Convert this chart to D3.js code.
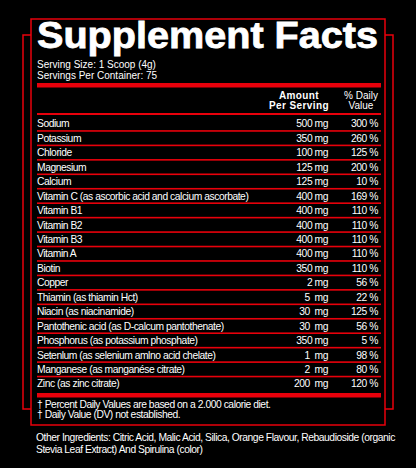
<!DOCTYPE html>
<html><head><meta charset="utf-8">
<script src="https://cdn.jsdelivr.net/npm/d3@7"></script>
<style>body{margin:0;background:#000}text{font-family:"Liberation Sans",Arial,sans-serif;fill:#fff}</style>
</head><body><div id="viz"></div>
<script>
var nutrients = ['Sodium','Potassium','Chloride','Magnesium','Calcium',
  'Vitamin C (as ascorbic acid and calcium ascorbate)','Vitamin B1','Vitamin B2','Vitamin B3',
  'Vitamin A','Biotin','Copper','Thiamin (as thiamin Hct)','Niacin (as niacinamide)',
  'Pantothenic acid (as D-calcum pantothenate)','Phosphorus (as potassium phosphate)',
  'Setenlum (as selenium amlno acid chelate)','Manganese (as manganése citrate)','Zinc (as zinc citrate)'];
var amounts = ['500 mg','350 mg','100 mg','125 mg','125 mg','400 mg','400 mg','400 mg','400 mg',
  '400 mg','350 mg','2 mg','5  mg','30  mg','30  mg','350 mg','1  mg','2  mg','200  mg'];
var dailyValues = ['300 %','260 %','125 %','200 %','10 %','169 %','110 %','110 %','110 %',
  '110 %','110 %','56 %','22 %','125 %','56 %','5 %','98 %','80 %','120 %'];

var width = 416, height = 468, red = '#e8000b';
var svg = d3.select('#viz').append('svg').attr('width', width).attr('height', height)
  .style('background', '#000');

// frame + side brackets
svg.append('rect').attr('x', 31).attr('y', 19).attr('width', 354).attr('height', 406)
  .attr('fill', 'none').attr('stroke', red).attr('stroke-width', 1.5);
svg.append('path').attr('fill', 'none').attr('stroke', red).attr('stroke-width', 1.5)
  .attr('d', 'M31,35H23V409H31M385,35H393V409H385');

svg.append('text').attr('x', 37).attr('y', 48).attr('textLength', 341)
  .attr('lengthAdjust', 'spacingAndGlyphs').style('font-size', '37px').style('font-weight', 900)
  .style('stroke', '#fff').style('stroke-width', 0.8)
  .text('Supplement Facts');
svg.append('text').attr('x', 37).attr('y', 68).style('font-size', '10px').text('Serving Size: 1 Scoop (4g)');
svg.append('text').attr('x', 37).attr('y', 79).style('font-size', '10px').text('Servings Per Container: 75');
svg.append('rect').attr('x', 37).attr('y', 83).attr('width', 344).attr('height', 4.5).attr('fill', red);

var hdr = svg.append('g').style('font-size', '10px');
hdr.append('text').attr('x', 299).attr('y', 99).attr('text-anchor', 'middle').style('font-weight', 'bold').style('letter-spacing', '0.4px').text('Amount');
hdr.append('text').attr('x', 299).attr('y', 109).attr('text-anchor', 'middle').style('font-weight', 'bold').style('letter-spacing', '0.4px').text('Per Serving');
hdr.append('text').attr('x', 361).attr('y', 99).attr('text-anchor', 'middle').text('% Daily');
hdr.append('text').attr('x', 361).attr('y', 109).attr('text-anchor', 'middle').text('Value');
svg.append('rect').attr('x', 37).attr('y', 113).attr('width', 344).attr('height', 2).attr('fill', red);

var y = d3.scaleBand().domain(nutrients).range([116.5, 391]);
var rows = svg.selectAll('g.row').data(nutrients).enter().append('g')
  .attr('transform', function(d) { return 'translate(0,' + y(d) + ')'; })
  .style('font-size', '10.3px').style('letter-spacing', '-0.45px');
rows.append('text').attr('x', 37).attr('y', y.bandwidth() / 2 + 3.7).text(function(d) { return d; });
rows.append('text').attr('x', 328).attr('y', y.bandwidth() / 2 + 3.7).attr('text-anchor', 'end')
  .style('white-space', 'pre').text(function(d, i) { return amounts[i]; });
rows.append('text').attr('x', 378).attr('y', y.bandwidth() / 2 + 3.7).attr('text-anchor', 'end')
  .text(function(d, i) { return dailyValues[i]; });
rows.filter(function(d, i) { return i < nutrients.length - 1; }).append('rect')
  .attr('x', 37).attr('y', y.bandwidth() - 0.8).attr('width', 344).attr('height', 1.6).attr('fill', red);

svg.append('rect').attr('x', 37).attr('y', 393).attr('width', 344).attr('height', 4.5).attr('fill', red);
var foot = svg.append('g').style('font-size', '10.3px').style('letter-spacing', '-0.45px');
foot.append('text').attr('x', 37).attr('y', 408).text('†  Percent Daily Values are based on a 2.000 calorie diet.');
foot.append('text').attr('x', 37).attr('y', 418).text('†  Daily Value (DV) not established.');
foot.append('text').attr('x', 36).attr('y', 441).text('Other Ingredients: Citric Acid, Malic Acid, Silica, Orange Flavour, Rebaudioside (organic');
foot.append('text').attr('x', 36).attr('y', 453).text('Stevia Leaf Extract) And Spirulina (color)');
</script></body></html>
